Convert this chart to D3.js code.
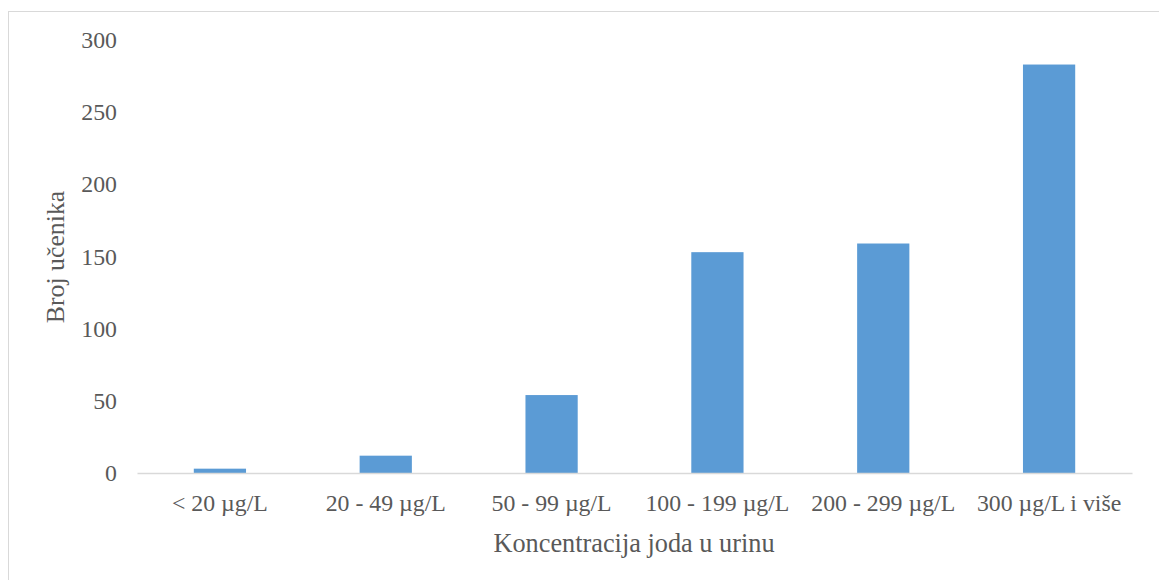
<!DOCTYPE html>
<html>
<head>
<meta charset="utf-8">
<script src="https://cdn.jsdelivr.net/npm/d3@7"></script>
<style>
  html, body { margin: 0; padding: 0; background: #fff; }
  svg { display: block; }
  text { font-family: "Liberation Serif", "Times New Roman", serif; fill: #595959; }
</style>
</head>
<body>
<svg id="chart" width="1159" height="580"></svg>
<script>
const categories = ["< 20 µg/L", "20 - 49 µg/L", "50 - 99 µg/L", "100 - 199 µg/L", "200 - 299 µg/L", "300 µg/L i više"];
const values = [3, 12, 54, 153, 159, 283];
const yTicks = [0, 50, 100, 150, 200, 250, 300];
const xTitle = "Koncentracija joda u urinu";
const yTitle = "Broj učenika";

(function () {
const svg = d3.select("#chart");

// outer frame
svg.append("rect")
  .attr("x", 8.5).attr("y", 11.5)
  .attr("width", 1170).attr("height", 600)
  .attr("fill", "#fff").attr("stroke", "#d9d9d9").attr("stroke-width", 1);

const mLeft = 137, mRight = 1132, mTop = 40, mBottom = 473;

const x = d3.scaleBand().domain(categories).range([mLeft, mRight])
  .paddingInner(0.685).paddingOuter(0.3425);
const y = d3.scaleLinear().domain([0, 300]).range([mBottom, mTop]);

// bars
svg.append("g").selectAll("rect").data(values).join("rect")
  .attr("x", (d, i) => x(categories[i]))
  .attr("width", x.bandwidth())
  .attr("y", d => y(d))
  .attr("height", d => y(0) - y(d))
  .attr("fill", "#5b9bd5");

// x axis
const xAxis = svg.append("g").attr("transform", `translate(0,${mBottom})`)
  .call(d3.axisBottom(x).tickSize(0).tickPadding(21));
xAxis.select(".domain").attr("stroke", "#d9d9d9").attr("stroke-width", 1.5);
xAxis.selectAll("text").attr("font-size", 23.8).attr("fill", "#595959")
  .attr("font-family", "Liberation Serif, Times New Roman, serif");

// y axis
const yAxis = svg.append("g").attr("transform", `translate(117,0)`)
  .call(d3.axisLeft(y).tickValues(yTicks).tickSize(0).tickPadding(0));
yAxis.select(".domain").remove();
yAxis.selectAll("text").attr("font-size", 23.8).attr("fill", "#595959")
  .attr("font-family", "Liberation Serif, Times New Roman, serif");

// titles
svg.append("text")
  .attr("x", 634).attr("y", 546)
  .attr("text-anchor", "middle").attr("dominant-baseline", "middle")
  .attr("font-size", 26.3)
  .text(xTitle);

svg.append("text")
  .attr("transform", `translate(58,257) rotate(-90)`)
  .attr("text-anchor", "middle").attr("dominant-baseline", "middle")
  .attr("font-size", 25.8)
  .text(yTitle);
})();
</script>
</body>
</html>
